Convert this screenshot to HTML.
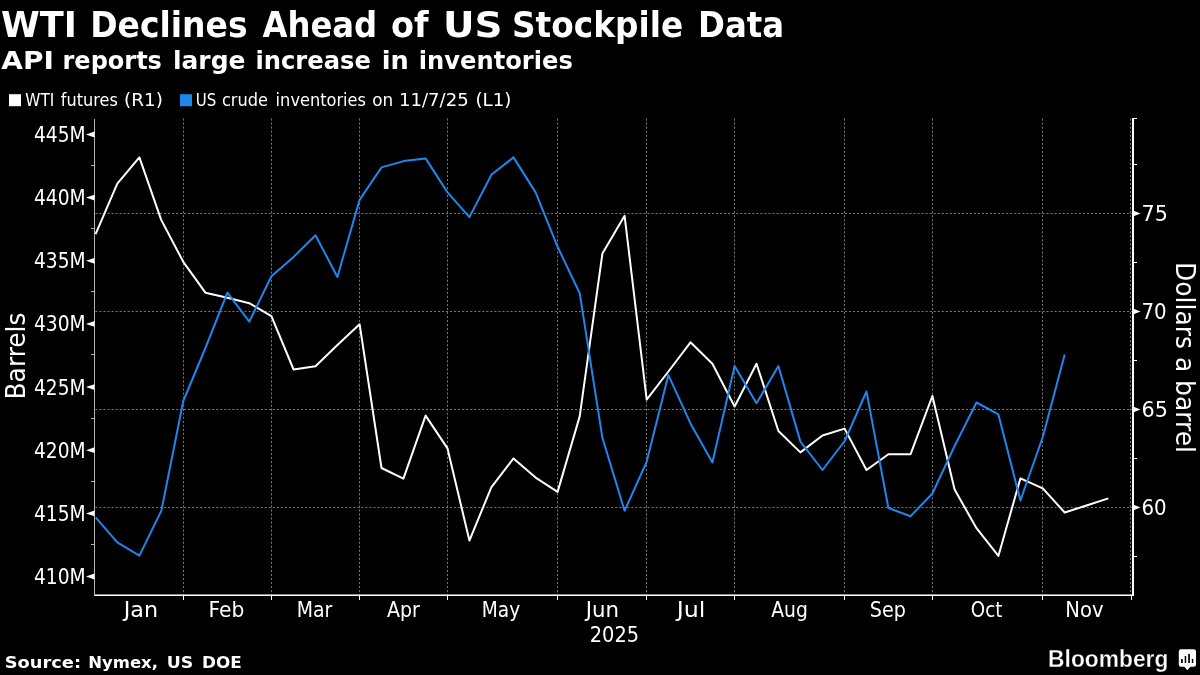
<!DOCTYPE html>
<html lang="en"><head><meta charset="utf-8"><title>WTI Declines Ahead of US Stockpile Data</title>
<style>
html,body{margin:0;padding:0;background:#000;}
body{width:1200px;height:675px;overflow:hidden;}
svg{display:block;}
text{fill:#fff;white-space:pre;}
.d{font-family:"DejaVu Sans","Liberation Sans",sans-serif;}
.c{font-family:"DejaVu Sans Condensed","DejaVu Sans","Liberation Sans",sans-serif;}
.l{font-family:"Liberation Sans","DejaVu Sans",sans-serif;}
.b{font-weight:bold;}
.l{stroke:#000;stroke-width:0.3px;paint-order:fill stroke;}
</style></head><body>
<svg width="1200" height="675" viewBox="0 0 1200 675">
<rect width="1200" height="675" fill="#000"/>

<g stroke="#767676" stroke-width="1" stroke-dasharray="2.1 1.93">
<line x1="183.5" y1="118.5" x2="183.5" y2="595.5"/>
<line x1="271.5" y1="118.5" x2="271.5" y2="595.5"/>
<line x1="359.5" y1="118.5" x2="359.5" y2="595.5"/>
<line x1="447.5" y1="118.5" x2="447.5" y2="595.5"/>
<line x1="557.5" y1="118.5" x2="557.5" y2="595.5"/>
<line x1="646.5" y1="118.5" x2="646.5" y2="595.5"/>
<line x1="734.5" y1="118.5" x2="734.5" y2="595.5"/>
<line x1="844.5" y1="118.5" x2="844.5" y2="595.5"/>
<line x1="932.5" y1="118.5" x2="932.5" y2="595.5"/>
<line x1="1042.5" y1="118.5" x2="1042.5" y2="595.5"/>
<line x1="1130.5" y1="118.5" x2="1130.5" y2="595.5"/>
<line x1="95.4" y1="213.5" x2="1132" y2="213.5"/>
<line x1="95.4" y1="311.5" x2="1132" y2="311.5"/>
<line x1="95.4" y1="409.5" x2="1132" y2="409.5"/>
<line x1="95.4" y1="507.5" x2="1132" y2="507.5"/>
</g>
<g stroke="#b4b4b4" stroke-width="1" shape-rendering="crispEdges">
<line x1="94.5" y1="118.5" x2="94.5" y2="595.5"/>
<line x1="90.5" y1="165.5" x2="94.5" y2="165.5"/>
<line x1="90.5" y1="228.6" x2="94.5" y2="228.6"/>
<line x1="90.5" y1="291.8" x2="94.5" y2="291.8"/>
<line x1="90.5" y1="354.9" x2="94.5" y2="354.9"/>
<line x1="90.5" y1="418.0" x2="94.5" y2="418.0"/>
<line x1="90.5" y1="481.2" x2="94.5" y2="481.2"/>
<line x1="90.5" y1="544.3" x2="94.5" y2="544.3"/>
</g>
<g stroke="#fff" stroke-width="1" shape-rendering="crispEdges">
<line x1="183.5" y1="595.5" x2="183.5" y2="599.5"/>
<line x1="271.5" y1="595.5" x2="271.5" y2="599.5"/>
<line x1="359.5" y1="595.5" x2="359.5" y2="599.5"/>
<line x1="447.5" y1="595.5" x2="447.5" y2="599.5"/>
<line x1="557.5" y1="595.5" x2="557.5" y2="599.5"/>
<line x1="646.5" y1="595.5" x2="646.5" y2="599.5"/>
<line x1="734.5" y1="595.5" x2="734.5" y2="599.5"/>
<line x1="844.5" y1="595.5" x2="844.5" y2="599.5"/>
<line x1="932.5" y1="595.5" x2="932.5" y2="599.5"/>
<line x1="1042.5" y1="595.5" x2="1042.5" y2="599.5"/>
<line x1="1131.5" y1="595.5" x2="1131.5" y2="599.5"/>
<line x1="1133" y1="164.5" x2="1137" y2="164.5"/>
<line x1="1133" y1="262.5" x2="1137" y2="262.5"/>
<line x1="1133" y1="360.5" x2="1137" y2="360.5"/>
<line x1="1133" y1="458.5" x2="1137" y2="458.5"/>
<line x1="1133" y1="556.5" x2="1137" y2="556.5"/>
<line x1="1133" y1="118.5" x2="1137" y2="118.5"/>
</g>
<rect x="1132" y="118" width="2" height="478" fill="#fff"/>
<rect x="95" y="594.45" width="1038" height="1.55" fill="#fff"/>
<g fill="#fff">
<polygon points="86.0,134.5 94.5,131.6 94.5,137.4"/>
<polygon points="86.0,197.6 94.5,194.7 94.5,200.5"/>
<polygon points="86.0,260.8 94.5,257.9 94.5,263.7"/>
<polygon points="86.0,323.9 94.5,321.0 94.5,326.8"/>
<polygon points="86.0,387.1 94.5,384.2 94.5,390.0"/>
<polygon points="86.0,450.2 94.5,447.3 94.5,453.1"/>
<polygon points="86.0,513.4 94.5,510.5 94.5,516.3"/>
<polygon points="86.0,576.5 94.5,573.6 94.5,579.4"/>
<polygon points="1140.5,213.5 1133,210.6 1133,216.4"/>
<polygon points="1140.5,311.5 1133,308.6 1133,314.4"/>
<polygon points="1140.5,409.5 1133,406.6 1133,412.4"/>
<polygon points="1140.5,507.5 1133,504.6 1133,510.4"/>
</g>
<polyline fill="none" stroke="#fff" stroke-width="2" stroke-linejoin="round" points="95.6,234.2 117.3,183.6 139.4,157.4 161.1,219.6 183.3,261.9 205.4,292.7 227.4,297.7 249.3,303.2 271.4,316.1 293.6,369.5 315.5,366.2 337.4,345.0 359.6,324.2 381.5,468.0 403.4,478.6 425.6,415.6 447.5,448.4 469.4,540.6 491.3,487.4 513.5,458.4 535.6,477.6 557.6,491.9 579.7,416.4 602.4,253.6 624.6,215.8 646.7,399.6 668.4,371.5 690.5,342.3 712.4,363.7 734.6,406.5 756.5,363.7 778.4,431.0 800.4,452.4 822.5,435.5 844.6,428.6 866.5,470.0 888.4,454.2 910.6,454.2 932.4,396.0 954.6,489.5 976.5,528.2 998.4,555.9 1020.4,478.4 1042.8,488.3 1064.7,512.5 1086.5,505.5 1108.3,498.4"/>
<polyline fill="none" stroke="#1f86ee" stroke-width="2" stroke-linejoin="round" points="95.6,517.4 117.3,542.4 139.4,555.6 161.4,510.6 183.3,401.0 205.4,348.0 227.4,292.7 249.3,321.6 271.4,276.3 293.6,256.9 315.5,235.2 337.4,277.0 359.6,199.9 381.5,167.4 403.7,161.1 425.6,158.4 447.5,192.4 469.4,217.1 491.6,174.5 513.5,157.4 535.6,192.4 557.6,246.8 579.7,293.2 602.4,437.8 624.6,510.8 646.6,462.0 668.4,375.1 690.5,423.4 712.4,462.5 734.6,366.0 756.5,403.3 778.4,366.0 800.4,441.6 822.5,470.0 844.7,441.0 866.5,391.5 888.4,508.0 910.5,516.3 932.4,493.5 954.6,446.0 976.5,402.5 998.4,414.4 1020.4,500.5 1042.8,437.0 1064.7,354.4"/>
<text class="d b" y="36.8" font-size="35.5"><tspan x="1.01" textLength="75.85" lengthAdjust="spacingAndGlyphs">WTI</tspan> <tspan x="90.21" textLength="157.39" lengthAdjust="spacingAndGlyphs">Declines</tspan> <tspan x="262.50" textLength="114.71" lengthAdjust="spacingAndGlyphs">Ahead</tspan> <tspan x="391.06" textLength="37.60" lengthAdjust="spacingAndGlyphs">of</tspan> <tspan x="443.01" textLength="59.62" lengthAdjust="spacingAndGlyphs">US</tspan> <tspan x="511.95" textLength="171.35" lengthAdjust="spacingAndGlyphs">Stockpile</tspan> <tspan x="698.06" textLength="86.09" lengthAdjust="spacingAndGlyphs">Data</tspan></text>
<text class="d b" y="68.6" font-size="24.3"><tspan x="1.30" textLength="52.56" lengthAdjust="spacingAndGlyphs">API</tspan> <tspan x="62.52" textLength="99.38" lengthAdjust="spacingAndGlyphs">reports</tspan> <tspan x="172.95" textLength="72.47" lengthAdjust="spacingAndGlyphs">large</tspan> <tspan x="255.51" textLength="115.32" lengthAdjust="spacingAndGlyphs">increase</tspan> <tspan x="381.69" textLength="27.04" lengthAdjust="spacingAndGlyphs">in</tspan> <tspan x="418.81" textLength="154.00" lengthAdjust="spacingAndGlyphs">inventories</tspan></text>
<text class="c" y="106.4" font-size="17"><tspan x="25.30" textLength="28.98" lengthAdjust="spacingAndGlyphs">WTI</tspan> <tspan x="60.80" textLength="57.02" lengthAdjust="spacingAndGlyphs">futures</tspan> <tspan x="124.10" textLength="38.76" lengthAdjust="spacingAndGlyphs">(R1)</tspan></text>
<text class="c" y="106.4" font-size="17"><tspan x="195.72" textLength="20.48" lengthAdjust="spacingAndGlyphs">US</tspan> <tspan x="221.94" textLength="46.11" lengthAdjust="spacingAndGlyphs">crude</tspan> <tspan x="275.64" textLength="90.36" lengthAdjust="spacingAndGlyphs">inventories</tspan> <tspan x="372.20" textLength="20.97" lengthAdjust="spacingAndGlyphs">on</tspan> <tspan x="398.94" textLength="69.69" lengthAdjust="spacingAndGlyphs">11/7/25</tspan> <tspan x="475.51" textLength="35.90" lengthAdjust="spacingAndGlyphs">(L1)</tspan></text>
<text class="d b" y="667.5" font-size="16.6"><tspan x="4.73" textLength="76.30" lengthAdjust="spacingAndGlyphs">Source:</tspan> <tspan x="88.21" textLength="69.75" lengthAdjust="spacingAndGlyphs">Nymex,</tspan> <tspan x="166.66" textLength="26.54" lengthAdjust="spacingAndGlyphs">US</tspan> <tspan x="202.09" textLength="39.75" lengthAdjust="spacingAndGlyphs">DOE</tspan></text>
<text class="l b" y="666.9" font-size="23.3"><tspan x="1048.12" textLength="120.22" lengthAdjust="spacingAndGlyphs">Bloomberg</tspan></text>
<text class="c" y="641.8" font-size="21"><tspan x="589.77" textLength="49.36" lengthAdjust="spacingAndGlyphs">2025</tspan></text>
<text class="c" y="616.5" font-size="20.5"><tspan x="123.71" textLength="34.28" lengthAdjust="spacingAndGlyphs">Jan</tspan></text>
<text class="c" y="616.5" font-size="20.5"><tspan x="208.55" textLength="35.82" lengthAdjust="spacingAndGlyphs">Feb</tspan></text>
<text class="c" y="616.5" font-size="20.5"><tspan x="296.70" textLength="35.59" lengthAdjust="spacingAndGlyphs">Mar</tspan></text>
<text class="c" y="616.5" font-size="20.5"><tspan x="387.00" textLength="32.90" lengthAdjust="spacingAndGlyphs">Apr</tspan></text>
<text class="c" y="616.5" font-size="20.5"><tspan x="481.79" textLength="38.35" lengthAdjust="spacingAndGlyphs">May</tspan></text>
<text class="c" y="616.5" font-size="20.5"><tspan x="585.66" textLength="33.30" lengthAdjust="spacingAndGlyphs">Jun</tspan></text>
<text class="c" y="616.5" font-size="20.5"><tspan x="676.79" textLength="28.64" lengthAdjust="spacingAndGlyphs">Jul</tspan></text>
<text class="c" y="616.5" font-size="20.5"><tspan x="771.30" textLength="36.55" lengthAdjust="spacingAndGlyphs">Aug</tspan></text>
<text class="c" y="616.5" font-size="20.5"><tspan x="869.76" textLength="36.05" lengthAdjust="spacingAndGlyphs">Sep</tspan></text>
<text class="c" y="616.5" font-size="20.5"><tspan x="970.81" textLength="31.58" lengthAdjust="spacingAndGlyphs">Oct</tspan></text>
<text class="c" y="616.5" font-size="20.5"><tspan x="1065.38" textLength="38.18" lengthAdjust="spacingAndGlyphs">Nov</tspan></text>
<text class="c" y="142.0" font-size="21"><tspan x="34.01" textLength="51.63" lengthAdjust="spacingAndGlyphs">445M</tspan></text>
<text class="c" y="205.14285714285714" font-size="21"><tspan x="34.01" textLength="51.63" lengthAdjust="spacingAndGlyphs">440M</tspan></text>
<text class="c" y="268.2857142857143" font-size="21"><tspan x="34.01" textLength="51.63" lengthAdjust="spacingAndGlyphs">435M</tspan></text>
<text class="c" y="331.42857142857144" font-size="21"><tspan x="34.01" textLength="51.63" lengthAdjust="spacingAndGlyphs">430M</tspan></text>
<text class="c" y="394.57142857142856" font-size="21"><tspan x="34.01" textLength="51.63" lengthAdjust="spacingAndGlyphs">425M</tspan></text>
<text class="c" y="457.7142857142857" font-size="21"><tspan x="34.01" textLength="51.63" lengthAdjust="spacingAndGlyphs">420M</tspan></text>
<text class="c" y="520.8571428571429" font-size="21"><tspan x="34.01" textLength="51.63" lengthAdjust="spacingAndGlyphs">415M</tspan></text>
<text class="c" y="584.0" font-size="21"><tspan x="34.01" textLength="51.63" lengthAdjust="spacingAndGlyphs">410M</tspan></text>
<text class="c" y="220.9" font-size="21"><tspan x="1141.50" textLength="26.34" lengthAdjust="spacingAndGlyphs">75</tspan></text>
<text class="c" y="318.9" font-size="21"><tspan x="1141.55" textLength="25.14" lengthAdjust="spacingAndGlyphs">70</tspan></text>
<text class="c" y="416.9" font-size="21"><tspan x="1141.50" textLength="26.34" lengthAdjust="spacingAndGlyphs">65</tspan></text>
<text class="c" y="514.9" font-size="21"><tspan x="1141.55" textLength="25.14" lengthAdjust="spacingAndGlyphs">60</tspan></text>
<text class="c" transform="translate(24.5,356) rotate(-90)" font-size="26" text-anchor="middle" textLength="87" lengthAdjust="spacingAndGlyphs">Barrels</text>
<text class="c" transform="translate(1175.5,357.5) rotate(90)" font-size="26" text-anchor="middle" textLength="191" lengthAdjust="spacingAndGlyphs">Dollars a barrel</text>
<rect x="9" y="94.2" width="12" height="12" fill="#fff"/>
<rect x="180" y="94.2" width="12" height="12" fill="#1f86ee"/>
<path fill="#fff" d="M1181,649.2h12.8a2.2,2.2 0 0 1 2.2,2.2v13.1a2.2,2.2 0 0 1 -2.2,2.2h-3.4l-3.1,3.6l-2.9,-3.6h-3.4a2.2,2.2 0 0 1 -2.2,-2.2v-13.1a2.2,2.2 0 0 1 2.2,-2.2z"/>
<g fill="#000"><rect x="1181" y="659.1" width="1.8" height="3.9"/><rect x="1184.7" y="656" width="1.5" height="7"/><rect x="1188.2" y="653.9" width="1.7" height="9.1"/><rect x="1191.8" y="658.9" width="1.5" height="4.1"/></g>
</svg></body></html>
